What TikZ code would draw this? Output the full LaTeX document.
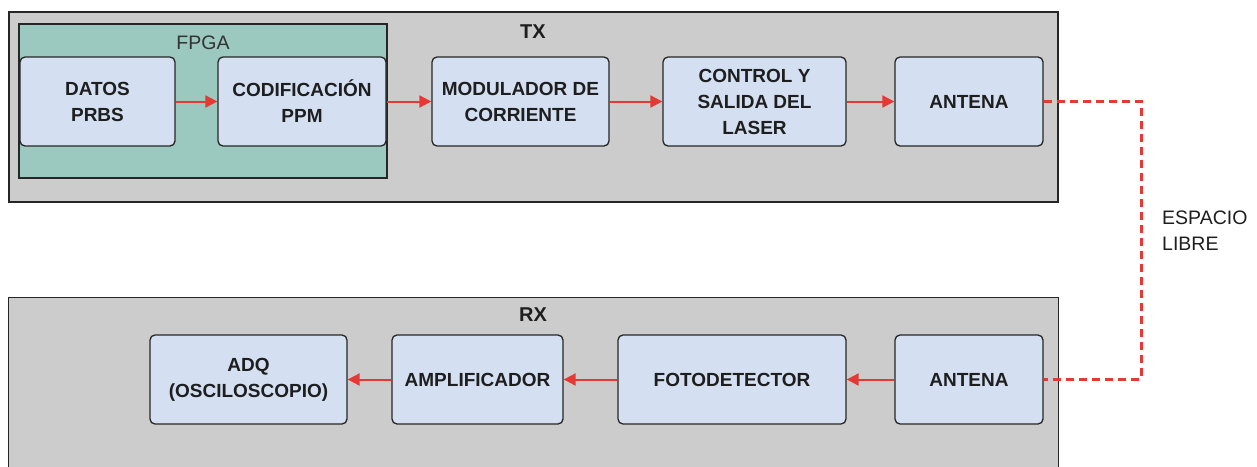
\documentclass[tikz,border=0pt]{standalone}
\usepackage{fontspec}
\setmainfont{Liberation Sans}
\usetikzlibrary{arrows.meta}
\definecolor{grayb}{HTML}{CCCCCC}
\definecolor{fpgac}{HTML}{9BC8BF}
\definecolor{blk}{HTML}{D4E0F2}
\definecolor{arr}{HTML}{E53935}
\definecolor{txt}{HTML}{1E1E1E}
\begin{document}
\begin{tikzpicture}[x=1pt,y=-1pt,
  container/.style={draw=black!85, line width=1.3pt, fill=grayb, inner sep=0pt},
  fpgabox/.style={draw=black!85, line width=1.3pt, fill=fpgac, inner sep=0pt},
  blockbox/.style={draw=black!85, line width=1.3pt, rounded corners=5pt, fill=blk,
    font=\fontsize{19}{26}\selectfont\bfseries, align=center, text=txt, inner sep=1pt},
  title/.style={font=\fontsize{20}{24}\selectfont\bfseries, text=txt, inner sep=0pt},
  flow/.style={color=arr, line width=2pt, -{Triangle[length=12pt,width=12pt]}},
  air/.style={color=arr, line width=3pt, dash pattern=on 8pt off 5pt}
]
\useasboundingbox (0,0) rectangle (1257,466);
% containers
\node[container, minimum width=1049pt, minimum height=190pt] (tx) at (533.5,107) {};
\node[container, minimum width=1050pt, minimum height=190pt, anchor=north west] (rx) at (8,297) {};
\node[fpgabox, minimum width=368pt, minimum height=154pt] (fpga) at (203,101) {};
\node[font=\fontsize{19.5}{24}\selectfont, text=black!80, inner sep=0pt] (fpgalbl) at (203,43) {FPGA};
\node[title] (txlbl) at (533,32) {TX};
\node[title] (rxlbl) at (533,315) {RX};
% TX blocks
\node[blockbox, minimum width=155pt, minimum height=89pt] (datos) at (97.5,101.5) {DATOS\\PRBS};
\node[blockbox, minimum width=168pt, minimum height=89pt] (cod) at (302,101.5) {CODIFICACIÓN\\PPM};
\node[blockbox, minimum width=177pt, minimum height=89pt] (mod) at (520.5,101.5) {MODULADOR DE\\CORRIENTE};
\node[blockbox, minimum width=183pt, minimum height=89pt] (ctrl) at (754.5,101.5) {CONTROL Y\\SALIDA DEL\\LASER};
\node[blockbox, minimum width=148pt, minimum height=89pt] (anttx) at (969,101.5) {ANTENA};
% RX blocks
\node[blockbox, minimum width=197pt, minimum height=89pt] (adq) at (248.5,379.5) {ADQ\\(OSCILOSCOPIO)};
\node[blockbox, minimum width=171pt, minimum height=89pt] (amp) at (477.5,379.5) {AMPLIFICADOR};
\node[blockbox, minimum width=228pt, minimum height=89pt] (foto) at (732,379.5) {FOTODETECTOR};
\node[blockbox, minimum width=148pt, minimum height=89pt] (antrx) at (969,379.5) {ANTENA};
% label
\node[font=\fontsize{19.5}{26}\selectfont, text=txt, align=left, anchor=west, inner sep=0pt] (libre) at (1162,231) {ESPACIO\\LIBRE};
% connectors
\draw[flow] (datos) -- (cod);
\draw[flow] (cod) -- (mod);
\draw[flow] (mod) -- (ctrl);
\draw[flow] (ctrl) -- (anttx);
\draw[flow] (antrx) -- (foto);
\draw[flow] (foto) -- (amp);
\draw[flow] (amp) -- (adq);
\coordinate (turn) at (1141,240);
\draw[air] (anttx.east) -- (anttx.east -| turn) -- (antrx.east -| turn) -- (antrx.east);
\end{tikzpicture}
\end{document}
